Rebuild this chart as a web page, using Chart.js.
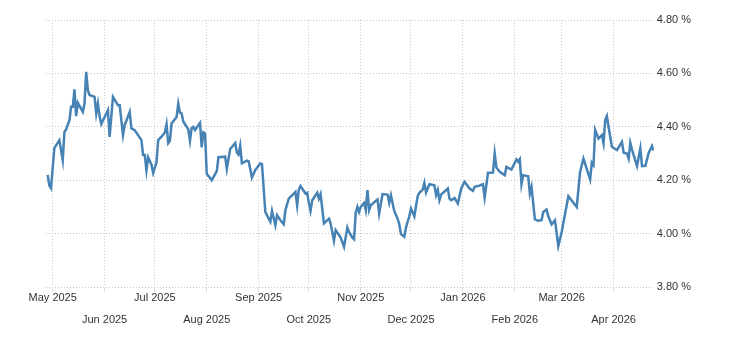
<!DOCTYPE html>
<html>
<head>
<meta charset="utf-8">
<script src="https://cdn.jsdelivr.net/npm/chart.js@4/dist/chart.umd.min.js"></script>
<style>
  html, body { margin: 0; padding: 0; background: #fff; }
  canvas { display: block; }
</style>
</head>
<body>
<canvas id="yieldChart" width="730" height="340"></canvas>
<script>
// days counted from 2025-05-01
const dayOffsets = [
  -3, -2, -1, 1, 4, 6, 7, 8, 10, 11, 12, 13, 14, 15, 18, 19, 20, 21, 22, 25, 26, 27, 28, 29,
  33, 34, 36, 39, 40, 42, 43, 46, 47, 49, 51, 53, 54, 55, 56,
  57, 59, 60, 62, 63, 65, 67, 68, 69, 70, 71, 74, 75, 76, 77, 78, 81, 82, 83, 84, 85, 88, 89,
  90, 91, 92, 95, 98, 99, 103, 104, 106, 109, 110, 111, 112, 113, 116, 117, 118,
  119, 121, 124, 125, 127, 129, 130, 131, 133, 134, 136, 138, 139, 141, 144, 145, 146, 147, 148,
  151, 152, 153, 154, 155, 158, 159, 160, 162, 163, 165, 166, 168, 169, 172, 174, 176, 177, 179,
  180, 181, 182, 183, 184, 186, 187, 188, 189, 190, 194, 195, 197, 200, 201, 202, 204, 206, 207,
  208, 210, 211, 213, 214, 216, 218, 219, 221, 222, 223, 225, 228, 229, 230, 231, 232, 236, 237,
  238, 240,
  242, 244, 246, 249, 251, 252, 254, 257, 258, 260, 263, 264, 265, 267, 270, 271, 274, 277, 278,
  279, 280, 281, 284, 285, 286, 288, 290, 292, 293, 295, 296, 298, 300,
  302, 304, 308, 313, 315, 317, 321, 322, 323, 324, 326, 328, 329, 330, 331, 332, 334, 337, 340,
  341, 343, 344, 345, 346, 347, 349, 351, 352, 354, 356, 358, 359
];

const yields = [
  4.22, 4.18, 4.17, 4.32, 4.35, 4.275, 4.38, 4.39, 4.425, 4.475, 4.475, 4.54, 4.44, 4.49, 4.456, 4.487, 4.606, 4.537, 4.519, 4.512, 4.45, 4.487, 4.44, 4.41,
  4.462, 4.362, 4.512, 4.481, 4.481, 4.369, 4.406, 4.456, 4.394, 4.387, 4.369, 4.35, 4.294, 4.294, 4.237,
  4.286, 4.258, 4.227, 4.267, 4.35, 4.363, 4.379, 4.41, 4.339, 4.348, 4.412, 4.437, 4.487, 4.453, 4.45, 4.42, 4.391, 4.348, 4.395, 4.40, 4.388, 4.415, 4.323,
  4.379, 4.375, 4.224, 4.20, 4.234, 4.286, 4.288, 4.242, 4.317, 4.339, 4.304, 4.296, 4.329, 4.263, 4.273, 4.271, 4.242,
  4.21, 4.238, 4.263, 4.26, 4.081, 4.056, 4.044, 4.085, 4.031, 4.069, 4.05, 4.035, 4.088, 4.131, 4.15, 4.156, 4.106, 4.165, 4.178,
  4.15, 4.153, 4.115, 4.085, 4.125, 4.153, 4.131, 4.148, 4.038, 4.044, 4.056, 4.038, 3.973, 4.013, 3.985, 3.95, 4.023, 4.006, 3.985,
  3.979, 4.078, 4.10, 4.081, 4.10, 4.115, 4.088, 4.163, 4.088, 4.106, 4.128, 4.075, 4.148, 4.146, 4.115, 4.144, 4.085, 4.056, 4.035,
  3.998, 3.988, 4.023, 4.065, 4.094, 4.065, 4.14, 4.153, 4.165, 4.19, 4.154, 4.185, 4.181, 4.144, 4.163, 4.125, 4.146, 4.169, 4.131,
  4.125, 4.133,
  4.113, 4.169, 4.194, 4.169, 4.16, 4.175, 4.178, 4.185, 4.135, 4.228, 4.229, 4.30, 4.248, 4.231, 4.219, 4.25, 4.24, 4.278, 4.269,
  4.279, 4.185, 4.219, 4.215, 4.15, 4.175, 4.053, 4.048, 4.05, 4.081, 4.09, 4.065, 4.035, 4.05,
  3.953, 4.006, 4.14, 4.10, 4.231, 4.281, 4.203, 4.265, 4.256, 4.388, 4.356, 4.369, 4.338, 4.425, 4.44, 4.40, 4.325, 4.313, 4.344,
  4.303, 4.30, 4.281, 4.34, 4.315, 4.294, 4.253, 4.319, 4.253, 4.254, 4.303, 4.328, 4.31
];

const monthDays = [0, 31, 61, 92, 123, 153, 184, 214, 245, 276, 304, 335];
const monthLabels = ['May 2025', 'Jun 2025', 'Jul 2025', 'Aug 2025', 'Sep 2025', 'Oct 2025',
  'Nov 2025', 'Dec 2025', 'Jan 2026', 'Feb 2026', 'Mar 2026', 'Apr 2026'];
const yTicks = [3.8, 4.0, 4.2, 4.4, 4.6, 4.8];

Chart.defaults.font.family = "'Liberation Sans', Arial, sans-serif";
Chart.defaults.font.size = 11;
Chart.defaults.color = '#333';

const gridColor = '#c8c8c8';

new Chart(document.getElementById('yieldChart'), {
  type: 'line',
  data: {
    datasets: [{
      data: dayOffsets.map((d, i) => ({ x: d, y: yields[i] })),
      borderColor: '#4682b4',
      borderWidth: 2.5,
      pointRadius: 0,
      tension: 0,
      fill: false
    }]
  },
  options: {
    responsive: false,
    animation: false,
    events: [],
    layout: { padding: { left: 46, right: 36, top: 20, bottom: 14 } },
    plugins: { legend: { display: false }, tooltip: { enabled: false } },
    scales: {
      x: {
        type: 'linear',
        min: -4,
        max: 359,
        afterBuildTicks: (axis) => { axis.ticks = monthDays.map(v => ({ value: v })); },
        grid: { color: gridColor, tickLength: 5, tickColor: '#ddd' },
        border: { display: false, dash: [1, 2] },
        ticks: {
          autoSkip: false,
          maxRotation: 0,
          padding: -5,
          font: { lineHeight: 2.0 },
          callback: (v, i) => i % 2 === 0 ? monthLabels[i] : ['', monthLabels[i]]
        }
      },
      y: {
        position: 'right',
        min: 3.8,
        max: 4.8,
        afterBuildTicks: (axis) => { axis.ticks = yTicks.map(v => ({ value: v })); },
        grid: { color: gridColor, drawTicks: false },
        border: { display: false, dash: [1, 2] },
        ticks: {
          padding: 3,
          callback: (v) => v.toFixed(2) + ' %'
        }
      }
    }
  }
});
</script>
</body>
</html>
